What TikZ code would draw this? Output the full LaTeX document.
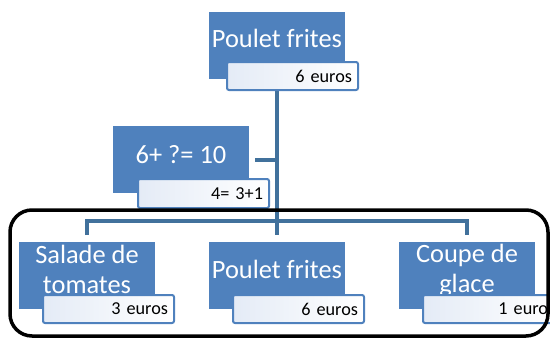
\documentclass[tikz,border=0pt]{standalone}
\usepackage{fontspec}
\setmainfont{Carlito}
\usetikzlibrary{backgrounds}
\definecolor{boxblue}{HTML}{4F81BD}
\definecolor{lineblue}{HTML}{41719C}
\definecolor{tagblue}{HTML}{E4EBF6}
\begin{document}
\begin{tikzpicture}[x=1pt,y=-1pt,
	mainbox/.style={fill=boxblue,minimum width=136pt,minimum height=67pt,inner sep=0pt,anchor=north west},
	maintext/.style={text=white,font=\fontsize{26.4}{30}\selectfont,align=center,anchor=base},
	pricetag/.style={draw=boxblue,line width=2pt,rounded corners=2pt,left color=tagblue,right color=white,
		minimum height=28pt,text width=119pt,align=right,inner xsep=6pt,inner ysep=0pt,
		text depth=0pt,font=\fontsize{18.2}{20}\selectfont,anchor=north west},
	link/.style={draw=lineblue,line width=4pt}]
	\useasboundingbox (0,0) rectangle (550,338);
	\node [mainbox] (top) at (209,12) {};
	\node [maintext] (top-txt) at (277,47) {Poulet frites};
	\node [pricetag] (top-tag) at (226,61) {6 euros};
	\node [mainbox] (calc) at (113,126) {};
	\node [maintext] (calc-txt) at (181,163) {6+ ?= 10};
	\node [pricetag,minimum height=29pt] (calc-tag) at (137,178) {4= 3+1};
	\node [mainbox] (salade) at (19,242) {};
	\node [maintext] (salade-txt) at (87,293) {Salade de\\tomates};
	\node [pricetag] (salade-tag) at (42,294) {3 euros};
	\node [mainbox] (plat) at (209,242) {};
	\node [maintext] (plat-txt) at (277,278) {Poulet frites};
	\node [pricetag] (plat-tag) at (232,294) {6 euros};
	\node [mainbox] (coupe) at (399,242) {};
	\node [maintext] (coupe-txt) at (467,292) {Coupe de\\glace};
	\node [pricetag] (coupe-tag) at (422,294) {1 euro};
	\coordinate (bar) at (277,221);
	\begin{scope}[on background layer]
		\draw [link] (top.south) -- ([yshift=7pt]plat.north);
		\draw [link] ([yshift=7pt]salade.north) |- (bar) -| ([yshift=7pt]coupe.north);
		\draw [link] ([xshift=6pt]calc.east) -- (calc.east -| top.south);
	\end{scope}
	\draw [line width=3.5pt,rounded corners=22pt] (10,210) rectangle (548,336);
\end{tikzpicture}
\end{document}
